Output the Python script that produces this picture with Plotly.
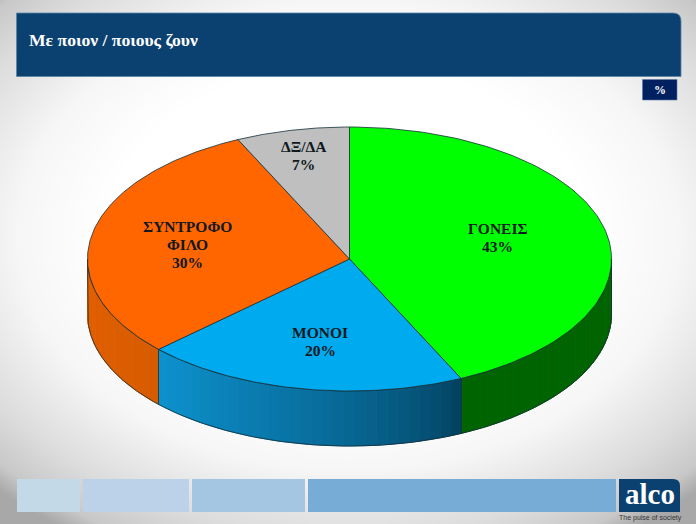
import numpy as np
import plotly.graph_objects as go

# slices run clockwise from 12 o'clock
categories = ["ΓΟΝΕΙΣ", "ΜΟΝΟΙ", "ΣΥΝΤΡΟΦΟ<br>ΦΙΛΟ", "ΔΞ/ΔΑ"]
values = [43, 20, 30, 7]
top_colors = ["#00ff00", "#00aaef", "#ff6600", "#bfbfbf"]
wall_left = [(0, 100, 0), (13, 146, 206), (226, 96, 0), (150, 150, 150)]
wall_right = [(0, 100, 0), (3, 63, 92), (214, 92, 0), (150, 150, 150)]
label_radius = [0.58, 0.6, 0.63, 0.8]
label_dy = [-4.5, 5, 1, -0.5]

title = "Με ποιον / ποιους ζουν"
strip_colors = ["#c3d9e7", "#bcd2e8", "#a5c6e3", "#77acd6"]
strip_edges = [(17, 80), (82.5, 189), (192, 305), (308, 616)]

cx, cy = 349.5, 259
rx, ry = 262, 132
depth = 55
edge = "#17303a"
line_step = 18

fig = go.Figure()

# background glow
gx = np.linspace(0, 696, 60)
gy = np.linspace(0, 524, 46)
xx, yy = np.meshgrid(gx, gy)
dist = np.sqrt(((xx - 348) / 400) ** 2 + ((yy - 235) / 285) ** 2)
fig.add_trace(go.Heatmap(x=gx, y=gy, z=dist, zmin=0.6, zmax=1.25, zsmooth="best",
                         colorscale=[[0, "#ffffff"], [0.35, "#f6f6f6"], [0.7, "#dcdcdc"],
                                     [0.9, "#c8c8c8"], [1, "#a8a8a8"]],
                         showscale=False, hoverinfo="skip"))


def ell(a, dy=0):
    a = np.radians(a)
    return cx + rx * np.sin(a), cy - ry * np.cos(a) + dy


def poly(x, y, fill, line=None):
    fig.add_trace(go.Scatter(x=x, y=y, mode="lines", fill="toself", fillcolor=fill,
                             line=dict(color=line or fill, width=0.8 if line else 1),
                             hoverinfo="skip", showlegend=False))


bounds = np.concatenate([[0], np.cumsum(values)]) * 3.6

# side walls, only the front half shows
for i in range(len(values)):
    a0 = max(bounds[i], 90)
    a1 = min(bounds[i + 1], 270)
    if a1 <= a0:
        continue
    steps = np.linspace(a0, a1, 31)
    for j in range(len(steps) - 1):
        arc = np.linspace(steps[j], steps[j + 1], 4)
        xs, ys = ell(arc)
        xb, yb = ell(arc[::-1], depth)
        t = ((j + 0.5) / (len(steps) - 1)) ** 0.7  # angle grows from right to left
        rgb = [int(wall_left[i][k] * t + wall_right[i][k] * (1 - t)) for k in range(3)]
        poly(np.r_[xs, xb, xs[0]], np.r_[ys, yb, ys[0]], "rgb(%d,%d,%d)" % tuple(rgb))
    arc = np.linspace(a0, a1, 80)
    xs, ys = ell(arc)
    xb, yb = ell(arc[::-1], depth)
    fig.add_trace(go.Scatter(x=np.r_[xs, xb, xs[0]], y=np.r_[ys, yb, ys[0]], mode="lines",
                             line=dict(color=edge, width=0.8), hoverinfo="skip", showlegend=False))

# top face
for i in range(len(values)):
    arc = np.linspace(bounds[i], bounds[i + 1], 120)
    xs, ys = ell(arc)
    poly(np.r_[cx, xs, cx], np.r_[cy, ys, cy], top_colors[i], edge)

# slice labels, one annotation per line because the leading is tighter than plotly's
for i, cat in enumerate(categories):
    a = np.radians((bounds[i] + bounds[i + 1]) / 2)
    lx = cx + rx * label_radius[i] * np.sin(a)
    ly = cy - ry * label_radius[i] * np.cos(a) + label_dy[i]
    lines = cat.split("<br>") + ["%d%%" % values[i]]
    for n, txt in enumerate(lines):
        fig.add_annotation(x=lx, y=ly + (n - (len(lines) - 1) / 2) * line_step,
                           text="<b>" + txt + "</b>", showarrow=False,
                           font=dict(family="Liberation Serif", size=15.5, color="#101820"))

shapes = []
# banner with rounded top right corner
shapes.append(dict(type="path", path="M 16.5 13 L 673 13 Q 681 13 681 21 L 681 76.5 L 16.5 76.5 Z",
                   fillcolor="#0b4170", line=dict(color="#5c83a3", width=0.8)))
shapes.append(dict(type="rect", x0=642.5, x1=677, y0=79.5, y1=100, fillcolor="#002060",
                   line=dict(color="#5c7aa3", width=0.6)))
for col, (x0, x1) in zip(strip_colors, strip_edges):
    shapes.append(dict(type="rect", x0=x0, x1=x1, y0=479, y1=512, fillcolor=col, line=dict(width=0)))
shapes.append(dict(type="path", path="M 619 479 L 673 479 Q 680 479 680 486 L 680 512 L 619 512 Z",
                   fillcolor="#0b4170", line=dict(width=0)))
fig.update_layout(shapes=shapes)

fig.add_annotation(x=27, y=39.5, xanchor="left", text="<b>" + title + "</b>", showarrow=False,
                   font=dict(family="Liberation Serif", size=17.6, color="white"))
fig.add_annotation(x=660, y=90, text="<b>%</b>", showarrow=False,
                   font=dict(family="Liberation Serif", size=12, color="white"))
fig.add_annotation(x=649.5, y=494, text="<b>alco</b>", showarrow=False,
                   font=dict(family="Liberation Serif", size=29, color="white"))
fig.add_annotation(x=650, y=517.5, text="The pulse of society", showarrow=False,
                   font=dict(family="Liberation Sans", size=7, color="#333333"))

fig.update_xaxes(range=[0, 696], visible=False, fixedrange=True)
fig.update_yaxes(range=[524, 0], visible=False, fixedrange=True)
fig.update_layout(width=696, height=524, margin=dict(l=0, r=0, t=0, b=0),
                  paper_bgcolor="white", plot_bgcolor="white", showlegend=False)

# page has a default 8px body margin, the picture must sit at 0,0
fig.write_html("out.html", config=dict(displayModeBar=False),
               post_script="document.body.style.margin='0';document.body.style.overflow='hidden';")
